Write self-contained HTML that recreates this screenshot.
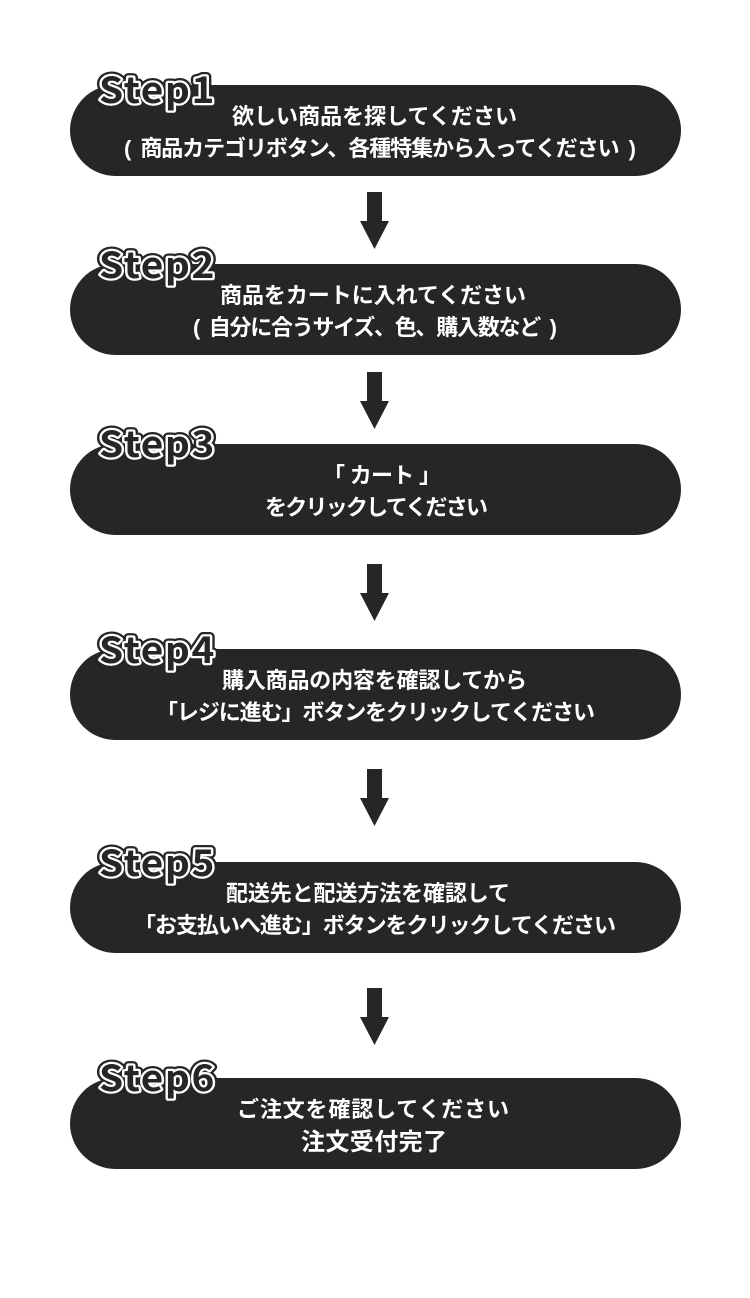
<!DOCTYPE html>
<html lang="ja"><head><meta charset="utf-8"><title>Steps</title>
<style>
html,body{margin:0;padding:0;background:#fff;width:750px;height:1298px;overflow:hidden}
svg{display:block}
.t{font-family:"Liberation Sans","Noto Sans CJK JP",sans-serif;font-size:22px;font-weight:700;fill:#fff}
.s{font-family:"Noto Sans CJK JP","Liberation Sans",sans-serif;font-size:36px;font-weight:700;stroke-linejoin:round;letter-spacing:1.5px}
.o{fill:#262626;stroke:#262626;stroke-width:9}
.w{fill:#262626;stroke:#fff;stroke-width:4.5}
.i{fill:#262626}
</style></head><body>
<svg width="750" height="1298" viewBox="0 0 750 1298" xmlns="http://www.w3.org/2000/svg">
<rect width="750" height="1298" fill="#fff"/>
<g fill="#262626">
<rect x="70" y="85" width="611" height="91" rx="45.5"/>
<rect x="70" y="264" width="611" height="91" rx="45.5"/>
<rect x="70" y="444" width="611" height="91" rx="45.5"/>
<rect x="70" y="649" width="611" height="91" rx="45.5"/>
<rect x="70" y="862" width="611" height="91" rx="45.5"/>
<rect x="70" y="1078" width="611" height="91" rx="45.5"/>
<path d="M367 192h15v29h7l-14.500 28-14.500-28h7z"/>
<path d="M367 372h15v29h7l-14.500 28-14.500-28h7z"/>
<path d="M367 564h15v29h7l-14.500 28-14.500-28h7z"/>
<path d="M367 769h15v29h7l-14.500 28-14.500-28h7z"/>
<path d="M367 988h15v29h7l-14.500 28-14.500-28h7z"/>
</g>

<g class="s">
<g><text class="o" x="99" y="103" textLength="117" lengthAdjust="spacingAndGlyphs">Step1</text><text class="w" x="99" y="103" textLength="117" lengthAdjust="spacingAndGlyphs">Step1</text><text class="i" x="99" y="103" textLength="117" lengthAdjust="spacingAndGlyphs">Step1</text></g>
<g><text class="o" x="99" y="278" textLength="117" lengthAdjust="spacingAndGlyphs">Step2</text><text class="w" x="99" y="278" textLength="117" lengthAdjust="spacingAndGlyphs">Step2</text><text class="i" x="99" y="278" textLength="117" lengthAdjust="spacingAndGlyphs">Step2</text></g>
<g><text class="o" x="99" y="457" textLength="117" lengthAdjust="spacingAndGlyphs">Step3</text><text class="w" x="99" y="457" textLength="117" lengthAdjust="spacingAndGlyphs">Step3</text><text class="i" x="99" y="457" textLength="117" lengthAdjust="spacingAndGlyphs">Step3</text></g>
<g><text class="o" x="99" y="663" textLength="117" lengthAdjust="spacingAndGlyphs">Step4</text><text class="w" x="99" y="663" textLength="117" lengthAdjust="spacingAndGlyphs">Step4</text><text class="i" x="99" y="663" textLength="117" lengthAdjust="spacingAndGlyphs">Step4</text></g>
<g><text class="o" x="99" y="876" textLength="117" lengthAdjust="spacingAndGlyphs">Step5</text><text class="w" x="99" y="876" textLength="117" lengthAdjust="spacingAndGlyphs">Step5</text><text class="i" x="99" y="876" textLength="117" lengthAdjust="spacingAndGlyphs">Step5</text></g>
<g><text class="o" x="99" y="1091" textLength="117" lengthAdjust="spacingAndGlyphs">Step6</text><text class="w" x="99" y="1091" textLength="117" lengthAdjust="spacingAndGlyphs">Step6</text><text class="i" x="99" y="1091" textLength="117" lengthAdjust="spacingAndGlyphs">Step6</text></g>
</g>

<g class="t">
<text x="232" y="124" textLength="285">欲しい商品を探してください</text>
<text x="124" y="156" textLength="512">(&#160;&#160;商品カテゴリボタン、各種特集から入ってください&#160;&#160;)</text>
<text x="220" y="303" textLength="306">商品をカートに入れてください</text>
<text x="193" y="335" textLength="364">(&#160;&#160;自分に合うサイズ、色、購入数など&#160;&#160;)</text>
<text x="323" y="483" textLength="118">「 カート 」</text>
<text x="265" y="515" textLength="223">をクリックしてください</text>
<text x="222" y="688" textLength="305">購入商品の内容を確認してから</text>
<text x="156" y="720" textLength="439">「レジに進む」ボタンをクリックしてください</text>
<text x="226" y="901" textLength="284">配送先と配送方法を確認して</text>
<text x="134" y="933" textLength="482">「お支払いへ進む」ボタンをクリックしてください</text>
<text x="237" y="1117" textLength="272">ご注文を確認してください</text>
<text x="301" y="1150" textLength="146" style="font-size:24px">注文受付完了</text>
</g>
</svg>
</body></html>
